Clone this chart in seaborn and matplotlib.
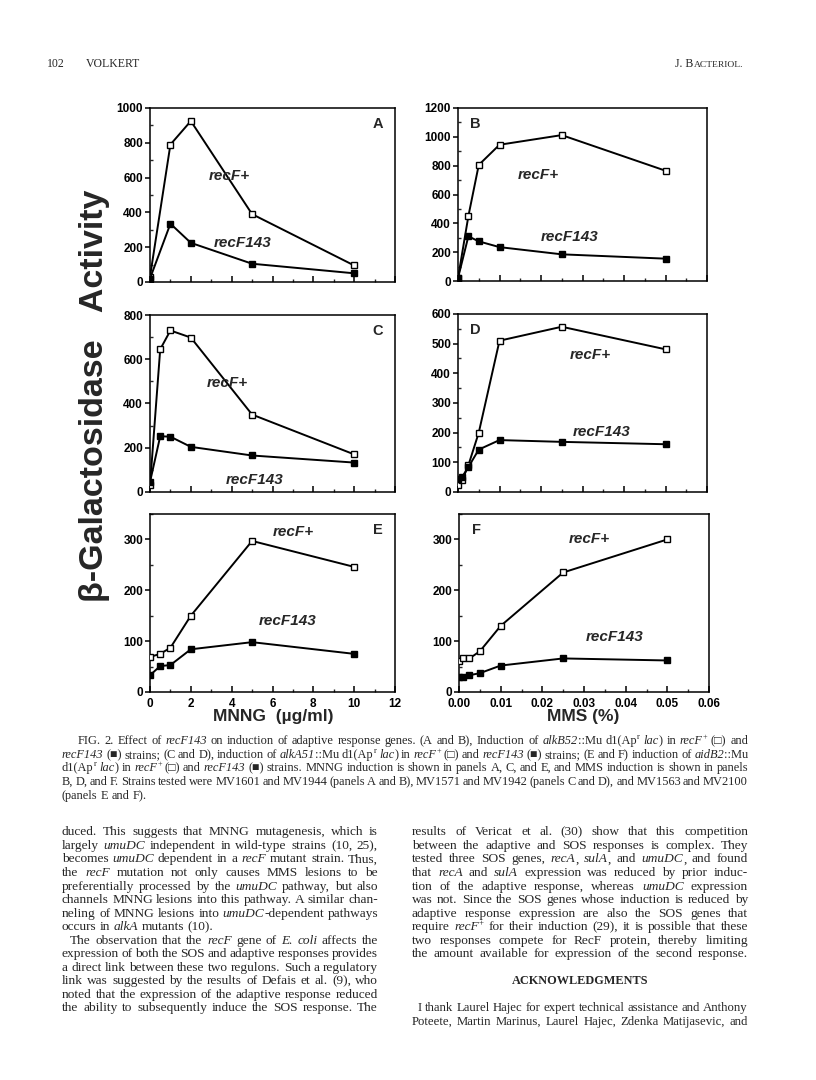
import matplotlib
matplotlib.use("Agg")
import re
import matplotlib.pyplot as plt
import seaborn as sns
import numpy as np
import pandas as pd
from matplotlib.ticker import MultipleLocator, FormatStrFormatter

# ---------------- data ----------------
mnng_A = [0, 1, 2, 5, 10]
A_recF_plus = [30, 790, 925, 390, 95]
A_recF143 = [20, 335, 225, 105, 50]

mms_B = [0, 0.0025, 0.005, 0.01, 0.025, 0.05]
B_recF_plus = [20, 450, 805, 945, 1012, 765]
B_recF143 = [20, 310, 275, 235, 185, 155]

mnng_C = [0, 0.5, 1, 2, 5, 10]
C_recF_plus = [30, 645, 730, 698, 350, 170]
C_recF143 = [45, 252, 250, 204, 165, 133]

mms_D = [0, 0.001, 0.0025, 0.005, 0.01, 0.025, 0.05]
D_recF_plus = [22, 39, 90, 200, 510, 557, 481]
D_recF143 = [43, 51, 84, 143, 175, 169, 161]

mnng_E = [0, 0.5, 1, 2, 5, 10]
E_recF_plus = [69, 75, 87, 150, 297, 246]
E_recF143 = [33, 51, 53, 84, 98, 75]

mms_F = [0, 0.001, 0.0025, 0.005, 0.01, 0.025, 0.05]
F_recF_plus = [61, 66, 66, 80, 130, 235, 300]
F_recF143 = [29, 30, 33, 37, 52, 66, 62]

series_labels = ["recF+", "recF143"]
panel_letters = ["A", "B", "C", "D", "E", "F"]
x_label_left = "MNNG  (\u00b5g/ml)"
x_label_right = "MMS (%)"
y_label = "\u03b2-Galactosidase   Activity"

header_left = ["102", "VOLKERT"]
header_right = ["J. B", "ACTERIOL."]

# markup: *italic*, {superscript}
caption_lines = [
    "FIG. 2. Effect of *recF143* on induction of adaptive response genes. (A and B), Induction of *alkB52*::Mu d1(Ap{r} *lac*) in *recF*{+} (\u25a1) and",
    "*recF143* (\u25a0) strains; (C and D), induction of *alkA51*::Mu d1(Ap{r} *lac*) in *recF*{+} (\u25a1) and *recF143* (\u25a0) strains; (E and F) induction of *aidB2*::Mu",
    "d1(Ap{r} *lac*) in *recF*{+} (\u25a1) and *recF143* (\u25a0) strains. MNNG induction is shown in panels A, C, and E, and MMS induction is shown in panels",
    "B, D, and F. Strains tested were MV1601 and MV1944 (panels A and B), MV1571 and MV1942 (panels C and D), and MV1563 and MV2100",
    "(panels E and F).",
]

left_col = [
    "duced. This suggests that MNNG mutagenesis, which is",
    "largely *umuDC* independent in wild-type strains (10, 25),",
    "becomes *umuDC* dependent in a *recF* mutant strain. Thus,",
    "the *recF* mutation not only causes MMS lesions to be",
    "preferentially processed by the *umuDC* pathway, but also",
    "channels MNNG lesions into this pathway. A similar chan-",
    "neling of MNNG lesions into *umuDC*-dependent pathways",
    "occurs in *alkA* mutants (10).",
    "The observation that the *recF* gene of *E.* *coli* affects the",
    "expression of both the SOS and adaptive responses provides",
    "a direct link between these two regulons. Such a regulatory",
    "link was suggested by the results of Defais et al. (9), who",
    "noted that the expression of the adaptive response reduced",
    "the ability to subsequently induce the SOS response. The",
]
right_col = [
    "results of Vericat et al. (30) show that this competition",
    "between the adaptive and SOS responses is complex. They",
    "tested three SOS genes, *recA*, *sulA*, and *umuDC*, and found",
    "that *recA* and *sulA* expression was reduced by prior induc-",
    "tion of the adaptive response, whereas *umuDC* expression",
    "was not. Since the SOS genes whose induction is reduced by",
    "adaptive response expression are also the SOS genes that",
    "require *recF*{+} for their induction (29), it is possible that these",
    "two responses compete for RecF protein, thereby limiting",
    "the amount available for expression of the second response.",
]
ack_title = "ACKNOWLEDGMENTS"
ack_lines = [
    "I thank Laurel Hajec for expert technical assistance and Anthony",
    "Poteete, Martin Marinus, Laurel Hajec, Zdenka Matijasevic, and",
]

# ---------------- style ----------------
sns.set_style("white")
plt.rcParams["font.family"] = ["Liberation Sans", "DejaVu Sans"]

W, H = 816, 1080
fig = plt.figure(figsize=(W / 100, H / 100), dpi=100)
fig.patch.set_facecolor("white")


def fx(x):
    return x / W


def fy(y):
    return 1 - y / H


SANS = ["Liberation Sans", "DejaVu Sans"]
SERIF = ["Liberation Serif", "DejaVu Sans"]

panels = [
    ("A", (150, 108, 395, 282), mnng_A, A_recF_plus, A_recF143, 1000, 200, 100, "mnng", "right", (3.9, 609), (4.55, 224)),
    ("B", (458, 108, 707, 281), mms_B, B_recF_plus, B_recF143, 1200, 200, 100, "mms", "left", (0.0193, 735), (0.027, 305)),
    ("C", (150, 315, 395, 492), mnng_C, C_recF_plus, C_recF143, 800, 200, 100, "mnng", "right", (3.77, 493), (5.1, 54)),
    ("D", (458, 314, 707, 492), mms_D, D_recF_plus, D_recF143, 600, 100, 50, "mms", "left", (0.0318, 462), (0.0347, 202)),
    ("E", (150, 514, 395, 692), mnng_E, E_recF_plus, E_recF143, 350, 100, 50, "mnng", "right", (7.0, 315), (6.76, 140)),
    ("F", (459, 514, 709, 692), mms_F, F_recF_plus, F_recF143, 350, 100, 50, "mms", "left", (0.0313, 301), (0.0373, 108)),
]

for letter, (l, t, r, b), xs, plus, f143, ymax, ystep, ymin_, kind, side, ap, a143 in panels:
    ax = fig.add_axes([fx(l), fy(b), (r - l) / W, (b - t) / H])
    df = pd.DataFrame({"dose": xs * 2,
                       "activity": plus + f143,
                       "strain": [series_labels[0]] * len(xs) + [series_labels[1]] * len(xs)})
    d1 = df[df.strain == series_labels[0]]
    d2 = df[df.strain == series_labels[1]]
    sns.lineplot(data=d1, x="dose", y="activity", ax=ax, color="black", lw=1.4,
                 marker="s", markersize=5, markerfacecolor="white",
                 markeredgecolor="black", markeredgewidth=1.0, zorder=3)
    sns.lineplot(data=d2, x="dose", y="activity", ax=ax, color="black", lw=1.4,
                 marker="s", markersize=5, markerfacecolor="black",
                 markeredgecolor="black", markeredgewidth=1.0, zorder=4)
    ax.set_xlabel("")
    ax.set_ylabel("")
    ax.set_ylim(0, ymax)
    ax.yaxis.set_major_locator(MultipleLocator(ystep))
    ax.yaxis.set_minor_locator(MultipleLocator(ymin_))
    if kind == "mnng":
        ax.set_xlim(0, 12)
        ax.xaxis.set_major_locator(MultipleLocator(2))
        ax.xaxis.set_minor_locator(MultipleLocator(1))
        ax.xaxis.set_major_formatter(FormatStrFormatter("%d"))
    else:
        ax.set_xlim(0, 0.06)
        ax.xaxis.set_major_locator(MultipleLocator(0.01))
        ax.xaxis.set_minor_locator(MultipleLocator(0.005))
        ax.xaxis.set_major_formatter(FormatStrFormatter("%.2f"))
    for s in ax.spines.values():
        s.set_visible(True)
        s.set_linewidth(1.1)
        s.set_color("black")
    ax.tick_params(axis="x", which="major", direction="in", length=4, width=1.1,
                   bottom=True, top=False, labelbottom=letter in ("E", "F"), pad=4,
                   labelsize=8.5, colors="black")
    ax.tick_params(axis="x", which="minor", direction="in", length=2.5, width=1.0,
                   bottom=True, top=False)
    ax.tick_params(axis="y", which="major", direction="out", length=3.5, width=1.1,
                   left=True, right=False, pad=1.5, labelsize=8.5, colors="black")
    ax.tick_params(axis="y", which="minor", direction="in", length=2.5, width=1.0,
                   left=True, right=False)
    for lab in ax.get_xticklabels() + ax.get_yticklabels():
        lab.set_fontweight("bold")
        lab.set_family(SANS)
    xpos = 0.93 if side == "right" else 0.07
    ax.text(xpos, 0.91, letter, transform=ax.transAxes, ha="center", va="center",
            fontsize=10.5, fontweight="bold", family=SANS)
    ax.text(ap[0], ap[1], series_labels[0], ha="center", va="center", fontsize=11,
            fontweight="bold", fontstyle="italic", family=SANS)
    ax.text(a143[0], a143[1], series_labels[1], ha="center", va="center", fontsize=11,
            fontweight="bold", fontstyle="italic", family=SANS)

# axis titles
fig.text(fx(273), fy(717), x_label_left, ha="center", va="center", fontsize=12.5,
         fontweight="bold", family=SANS)
fig.text(fx(583), fy(717), x_label_right, ha="center", va="center", fontsize=12.5,
         fontweight="bold", family=SANS)
fig.text(fx(95), fy(396), y_label, ha="center", va="center", rotation=90,
         fontsize=24.5, fontweight="bold", family=SANS)

# ---------------- page text ----------------
fig.canvas.draw()
renderer = fig.canvas.get_renderer()
TOKEN = re.compile(r"\*([^*]+)\*|\{([^}]+)\}|([^*{]+)")


def make_word(word, size, weight):
    parts = []
    total = 0.0
    for m in TOKEN.finditer(word):
        it, sup, rm = m.groups()
        if it is not None:
            tt = fig.text(0, 0, it, fontsize=size, family=SERIF, fontstyle="italic",
                          fontweight=weight, va="baseline", ha="left")
            dy = 0.0
        elif sup is not None:
            tt = fig.text(0, 0, sup, fontsize=size * 0.68, family=SERIF,
                          fontweight=weight, va="baseline", ha="left")
            dy = size * 100 / 72 * 0.38
        else:
            tt = fig.text(0, 0, rm, fontsize=size, family=SERIF,
                          fontweight=weight, va="baseline", ha="left")
            dy = 0.0
        w = tt.get_window_extent(renderer).width
        parts.append((tt, total, dy))
        total += w
    return parts, total


def draw_line(line, x0, x1, y_center, size, justify=True, weight="normal"):
    words = line.split(" ")
    built = [make_word(w, size, weight) for w in words]
    widths = [b[1] for b in built]
    space = 0.25 * size * 100 / 72
    if justify and len(words) > 1:
        gap = (x1 - x0 - sum(widths)) / (len(words) - 1)
    else:
        gap = space
    x = x0
    yb = y_center + size * 100 / 72 * 0.33
    for (parts, w) in built:
        for tt, off, dy in parts:
            tt.set_position((fx(x + off), fy(yb - dy)))
        x += w + gap


# header
fig.text(fx(47), fy(67), header_left[0], fontsize=8.5, family=SERIF, va="baseline")
fig.text(fx(86), fy(67), header_left[1], fontsize=8.5, family=SERIF, va="baseline")
t_small = fig.text(fx(743), fy(67), header_right[1], fontsize=6.8, family=SERIF,
                   va="baseline", ha="right")
w_small = t_small.get_window_extent(renderer).width
fig.text(fx(743 - w_small), fy(67), header_right[0], fontsize=8.5, family=SERIF,
         va="baseline", ha="right")

# caption
cap_y = [740, 754, 767, 781, 795]
for i, (line, y) in enumerate(zip(caption_lines, cap_y)):
    x0 = 78 if i == 0 else 62
    draw_line(line, x0, 748, y, 8.9, justify=(i < len(caption_lines) - 1))

# body
ly0, dy = 831, 13.54
for i, line in enumerate(left_col):
    x0 = 70 if i == 8 else 62
    draw_line(line, x0, 378, ly0 + i * dy, 9.6, justify=(i != 7))

for i, line in enumerate(right_col):
    draw_line(line, 412, 748, ly0 + i * dy, 9.6, justify=True)

fig.text(fx(580), fy(980 + 4), ack_title, fontsize=8.8, family=SERIF,
         fontweight="bold", ha="center", va="baseline")
for i, line in enumerate(ack_lines):
    x0 = 418 if i == 0 else 412
    draw_line(line, x0, 748, 1007 + i * dy, 9.2, justify=True)

fig.savefig("out.png", dpi=100, facecolor="white")
